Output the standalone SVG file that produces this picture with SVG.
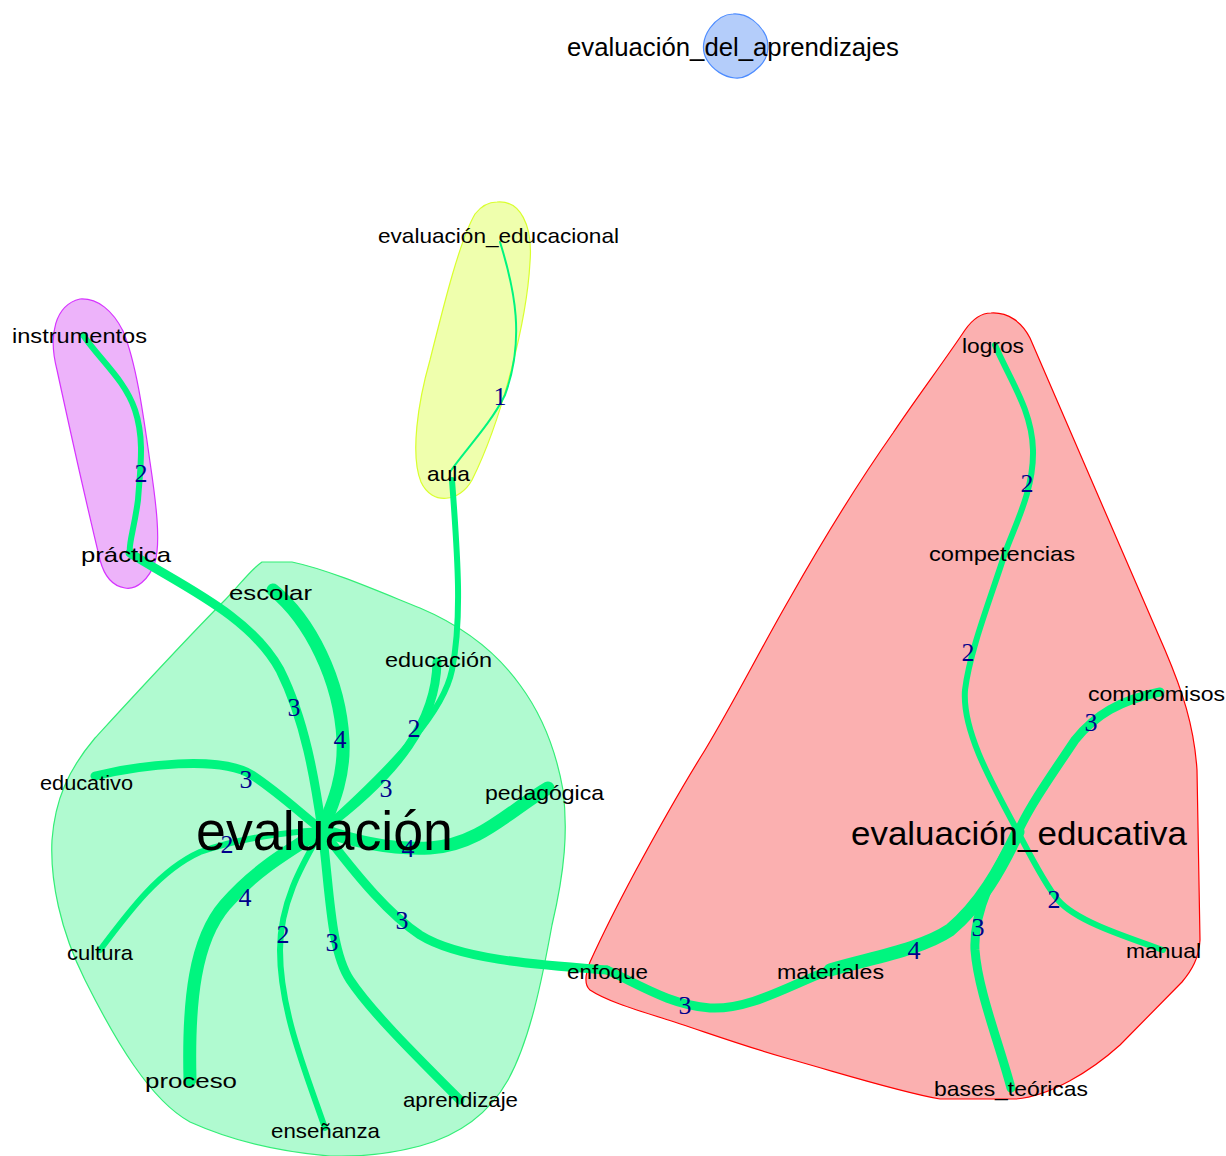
<svg xmlns="http://www.w3.org/2000/svg" width="1226" height="1156" viewBox="0 0 1226 1156">
<style>
.e{fill:none;stroke:#00F57F;stroke-linecap:round}
.w1{stroke-width:2}
.w2{stroke-width:6}
.w3{stroke-width:9}
.w4{stroke-width:13}
.el{font-family:"Liberation Serif","Times New Roman",serif;font-size:26px;fill:#00008B;text-anchor:middle}
.n{font-family:"Liberation Sans",Arial,sans-serif;font-size:21px;fill:#000;text-anchor:middle}
</style>
<rect width="1226" height="1156" fill="#fff"/>
<g id="hulls">
<path id="hull-blue" d="M733,14 C748,13 760,24 766,36 C770,46 768,58 760,66 C752,74 744,79 735,78 C724,77 713,70 707,60 C701,50 703,38 710,28 C716,20 724,14 733,14 Z" fill="#B4CDFA" stroke="#4D8CFF" stroke-width="1.2"/>
<path id="hull-yellow" d="M497,202 C520,200 533,225 530,262 C527,320 502,420 472,480 C460,502 432,506 421,482 C410,455 418,402 430,360 C445,300 460,240 475,214 C482,205 490,202 497,202 Z" fill="#EFFFAD" stroke="#D9FF2E" stroke-width="1.2"/>
<path id="hull-purple" d="M80,299 C98,298 113,311 123,331 C136,362 143,412 150,462 C156,502 161,542 155,562 C149,580 136,590 125,588 C112,586 104,575 100,560 C88,510 70,430 57,370 C48,335 55,305 80,299 Z" fill="#EDB3FA" stroke="#D633FF" stroke-width="1.2"/>
<path id="hull-green" d="M262,562 L292,562 C330,570 380,592 420,608 C460,625 495,650 520,685 C540,712 555,745 563,790 C568,830 565,870 552,925 C542,980 530,1040 508,1080 C490,1112 460,1135 420,1146 C390,1154 360,1157 330,1156 C280,1152 230,1140 190,1122 C150,1100 115,1040 85,980 C60,930 50,880 52,840 C55,800 68,770 95,738 C130,700 185,640 225,600 C240,585 250,570 262,562 Z" fill="#B0FAD0" stroke="#33EE77" stroke-width="1.2"/>
<path id="hull-red" d="M991,313 C1008,312 1022,322 1030,338 L1100,500 L1165,650 C1182,690 1194,725 1197,770 L1200,940 C1199,958 1192,970 1182,982 L1120,1045 C1090,1072 1050,1096 1016,1099 L940,1099 C900,1092 850,1076 786,1058 C740,1045 700,1030 662,1018 C630,1008 605,1000 590,990 C584,985 585,975 590,962 C600,940 612,915 635,872 C655,835 680,790 705,750 C735,700 760,650 790,598 C820,545 860,480 893,433 C915,400 945,360 965,330 C972,320 980,313 991,313 Z" fill="#FBB0B0" stroke="#FF0000" stroke-width="1.2"/>
</g>
<g id="edges">
<path class="e w1" d="M500,242 C515,290 525,340 505,395 C490,425 465,450 450,472"/>
<path class="e w2" d="M83,335 C100,360 125,380 135,410 C145,440 140,470 138,500 C134,530 128,545 130,553"/>
<path class="e w3" d="M130,553 C180,585 250,615 280,670 C305,720 315,780 322,830"/>
<path class="e w4" d="M273,590 C310,620 340,680 343,740 C345,780 330,810 322,830"/>
<path class="e w2" d="M452,480 C458,560 462,620 452,670 C444,710 400,760 322,830"/>
<path class="e w3" d="M437,662 C436,720 400,772 322,830"/>
<path class="e w3" d="M95,776 C140,765 220,755 252,775 C282,795 302,815 322,830"/>
<path class="e w4" d="M548,788 C510,810 480,845 430,848 C390,850 350,840 322,830"/>
<path class="e w2" d="M100,950 C130,910 160,870 200,852 C240,838 290,832 322,830"/>
<path class="e w4" d="M190,1080 C188,1000 195,940 225,905 C255,870 290,850 322,830"/>
<path class="e w2" d="M325,1128 C305,1070 280,1010 280,950 C280,900 305,860 322,830"/>
<path class="e w3" d="M460,1100 C410,1050 370,1010 350,980 C330,950 330,890 322,830"/>
<path class="e w3" d="M322,830 C360,880 390,915 420,935 C460,960 540,965 607,970"/>
<path class="e w3" d="M607,970 C640,985 670,1005 710,1008 C750,1010 790,985 830,970"/>
<path class="e w4" d="M830,970 C870,958 920,950 950,930 C980,905 1000,870 1018,832"/>
<path class="e w3" d="M1011,1088 C998,1040 978,990 975,950 C973,910 995,870 1018,832"/>
<path class="e w2" d="M1163,950 C1120,935 1075,920 1058,900 C1045,885 1030,855 1018,832"/>
<path class="e w3" d="M1160,692 C1120,700 1095,715 1075,740 C1055,770 1030,805 1018,832"/>
<path class="e w2" d="M1005,553 C990,600 970,650 965,690 C962,730 990,780 1018,832"/>
<path class="e w2" d="M995,345 C1010,380 1032,410 1033,450 C1034,490 1015,525 1005,553"/>
</g>
<g id="edge-labels">
<text class="el" x="500" y="405">1</text>
<text class="el" x="141" y="482">2</text>
<text class="el" x="294" y="716">3</text>
<text class="el" x="340" y="748">4</text>
<text class="el" x="414" y="737">2</text>
<text class="el" x="386" y="797">3</text>
<text class="el" x="246" y="788">3</text>
<text class="el" x="408" y="857">4</text>
<text class="el" x="227" y="853">2</text>
<text class="el" x="245" y="906">4</text>
<text class="el" x="283" y="943">2</text>
<text class="el" x="332" y="951">3</text>
<text class="el" x="402" y="929">3</text>
<text class="el" x="685" y="1014">3</text>
<text class="el" x="914" y="959">4</text>
<text class="el" x="978" y="936">3</text>
<text class="el" x="1054" y="908">2</text>
<text class="el" x="1091" y="731">3</text>
<text class="el" x="968" y="661">2</text>
<text class="el" x="1027" y="492">2</text>
</g>
<g id="node-evaluacion_del_aprendizajes"><text class="n" x="733" y="56" textLength="332" lengthAdjust="spacingAndGlyphs" style="font-size:25px">evaluación_del_aprendizajes</text></g>
<g id="node-evaluacion_educacional"><text class="n" x="498.5" y="243" textLength="241" lengthAdjust="spacingAndGlyphs">evaluación_educacional</text></g>
<g id="node-instrumentos"><text class="n" x="79.5" y="343" textLength="135" lengthAdjust="spacingAndGlyphs">instrumentos</text></g>
<g id="node-logros"><text class="n" x="993" y="353" textLength="62" lengthAdjust="spacingAndGlyphs">logros</text></g>
<g id="node-aula"><text class="n" x="448.5" y="481" textLength="43" lengthAdjust="spacingAndGlyphs">aula</text></g>
<g id="node-practica"><text class="n" x="126" y="562" textLength="90" lengthAdjust="spacingAndGlyphs">práctica</text></g>
<g id="node-competencias"><text class="n" x="1002" y="561" textLength="146" lengthAdjust="spacingAndGlyphs">competencias</text></g>
<g id="node-escolar"><text class="n" x="270.5" y="600" textLength="83" lengthAdjust="spacingAndGlyphs">escolar</text></g>
<g id="node-educacion"><text class="n" x="438.5" y="667" textLength="107" lengthAdjust="spacingAndGlyphs">educación</text></g>
<g id="node-compromisos"><text class="n" x="1156.5" y="701" textLength="137" lengthAdjust="spacingAndGlyphs">compromisos</text></g>
<g id="node-educativo"><text class="n" x="86.5" y="790" textLength="93" lengthAdjust="spacingAndGlyphs">educativo</text></g>
<g id="node-pedagogica"><text class="n" x="544.5" y="800" textLength="119" lengthAdjust="spacingAndGlyphs">pedagógica</text></g>
<g id="node-evaluacion"><text class="n" x="324.5" y="850" textLength="257" lengthAdjust="spacingAndGlyphs" style="font-size:55px">evaluación</text></g>
<g id="node-evaluacion_educativa"><text class="n" x="1019" y="845" textLength="336" lengthAdjust="spacingAndGlyphs" style="font-size:34px">evaluación_educativa</text></g>
<g id="node-manual"><text class="n" x="1163.5" y="958" textLength="75" lengthAdjust="spacingAndGlyphs">manual</text></g>
<g id="node-cultura"><text class="n" x="100" y="960" textLength="66" lengthAdjust="spacingAndGlyphs">cultura</text></g>
<g id="node-enfoque"><text class="n" x="607.5" y="979" textLength="81" lengthAdjust="spacingAndGlyphs">enfoque</text></g>
<g id="node-materiales"><text class="n" x="830.5" y="979" textLength="107" lengthAdjust="spacingAndGlyphs">materiales</text></g>
<g id="node-proceso"><text class="n" x="191" y="1088" textLength="92" lengthAdjust="spacingAndGlyphs">proceso</text></g>
<g id="node-bases_teoricas"><text class="n" x="1011" y="1096" textLength="154" lengthAdjust="spacingAndGlyphs">bases_teóricas</text></g>
<g id="node-aprendizaje"><text class="n" x="460.5" y="1107" textLength="115" lengthAdjust="spacingAndGlyphs">aprendizaje</text></g>
<g id="node-ensenanza"><text class="n" x="325.5" y="1138" textLength="109" lengthAdjust="spacingAndGlyphs">enseñanza</text></g>
</svg>
